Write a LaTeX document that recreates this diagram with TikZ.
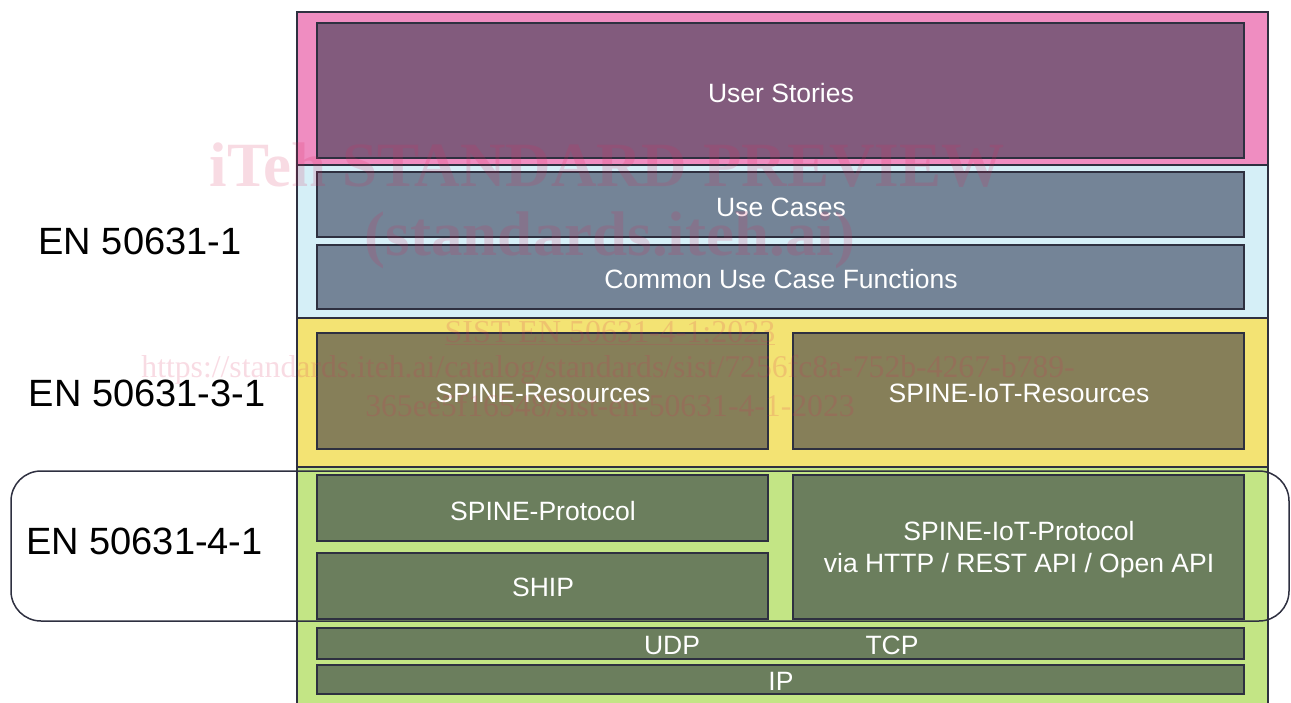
\documentclass[tikz,border=0pt]{standalone}
\usepackage{fontspec}
\setmainfont{Liberation Sans}
\newfontfamily\wmfont{Liberation Serif}
\definecolor{cpink}{HTML}{EF8DC1}
\definecolor{cpurple}{HTML}{825B7D}
\definecolor{cblue}{HTML}{D5EFF7}
\definecolor{cslate}{HTML}{748497}
\definecolor{cyellow}{HTML}{F3E373}
\definecolor{colive}{HTML}{867F59}
\definecolor{cgreen}{HTML}{C3E585}
\definecolor{cdgreen}{HTML}{6B7E5D}
\definecolor{cline}{HTML}{2E3040}
\definecolor{cwm}{HTML}{D8285A}
\begin{document}
\begin{tikzpicture}[x=1pt,y=-1pt,
  layer/.style={draw=cline,line width=1.5pt,minimum width=971pt,inner sep=0pt},
  inbox/.style={draw=cline,line width=1.3pt,inner sep=0pt,text=white,
    font=\fontsize{26.5}{32}\selectfont,align=center},
  lbl/.style={font=\fontsize{38}{42}\selectfont,text=black,inner sep=0pt},
  wm/.style={text=cwm,opacity=0.17,inner sep=0pt}]
\useasboundingbox (0,0) rectangle (1291,702);
% layers
\node[layer,fill=cpink,minimum height=153pt] (lpink) at (782.5,88.5) {};
\node[layer,fill=cblue,minimum height=153pt] (lblue) at (782.5,241.5) {};
\node[layer,fill=cyellow,minimum height=149pt] (lyellow) at (782.5,392.5) {};
\node[layer,fill=cgreen,minimum height=245pt] (lgreen) at (782.5,589.5) {};
% inner boxes
\node[inbox,fill=cpurple,minimum width=927pt,minimum height=135pt] (us) at (780.5,90.5) {};
\node[inbox,fill=cslate,minimum width=927pt,minimum height=65pt] (uc) at (780.5,204.5) {};
\node[inbox,fill=cslate,minimum width=927pt,minimum height=64pt] (cucf) at (780.5,277) {};
\node[inbox,fill=colive,minimum width=451pt,minimum height=116pt] (sr) at (542.5,391) {};
\node[inbox,fill=colive,minimum width=451pt,minimum height=116pt] (sir) at (1018.5,391) {};
\node[inbox,fill=cdgreen,minimum width=451pt,minimum height=66pt] (sp) at (542.5,508) {};
\node[inbox,fill=cdgreen,minimum width=451pt,minimum height=66pt] (ship) at (542.5,586) {};
\node[inbox,fill=cdgreen,minimum width=451pt,minimum height=144pt] (sip) at (1018.5,547) {};
\node[inbox,fill=cdgreen,minimum width=927pt,minimum height=31pt] (tl) at (780.5,643.5) {};
\node[inbox,fill=cdgreen,minimum width=927pt,minimum height=29pt] (ip) at (780.5,679.5) {};
% box texts
\node[inbox,draw=none] (tus) at (781,93) {User Stories};
\node[inbox,draw=none] (tuc) at (781,207) {Use Cases};
\node[inbox,draw=none] (tcucf) at (781,279) {Common Use Case Functions};
\node[inbox,draw=none] (tsr) at (543,393) {SPINE-Resources};
\node[inbox,draw=none] (tsir) at (1019,393) {SPINE-IoT-Resources};
\node[inbox,draw=none] (tsp) at (543,511) {SPINE-Protocol};
\node[inbox,draw=none] (tship) at (543,587) {SHIP};
\node[inbox,draw=none] (tsip) at (1019,550) {SPINE-IoT-Protocol\\via HTTP / REST API / Open API};
\node[inbox,draw=none] (udp) at (672,645.5) {UDP};
\node[inbox,draw=none] (tcp) at (892,645.5) {TCP};
\node[inbox,draw=none] (tip) at (781,681) {IP};
% rounded frame
\draw[cline,line width=1.5pt,rounded corners=30pt] (11,471) rectangle (1289,621);
% labels
\node[lbl] (en1) at (140,241) {EN 50631-1};
\node[lbl] (en31) at (147,393) {EN 50631-3-1};
\node[lbl] (en41) at (144.5,541) {EN 50631-4-1};
% watermark
\node[wm,font=\wmfont\bfseries\fontsize{63}{70}\selectfont] (w1) at (607,165) {iTeh STANDARD PREVIEW};
\node[wm,font=\wmfont\bfseries\fontsize{63}{70}\selectfont] (w2) at (610,240) {(standards.iteh.ai)};
\node[wm,font=\wmfont\fontsize{32}{36}\selectfont] (w3) at (610,333) {\underline{SIST EN 50631-4-1:2023}};
\node[wm,font=\wmfont\fontsize{31.7}{34}\selectfont] (w4) at (608,370) {https://standards.iteh.ai/catalog/standards/sist/7256fc8a-752b-4267-b789-};
\node[wm,font=\wmfont\fontsize{31.7}{34}\selectfont] (w5) at (610,405) {365ee5f16548/sist-en-50631-4-1-2023};
\end{tikzpicture}
\end{document}
